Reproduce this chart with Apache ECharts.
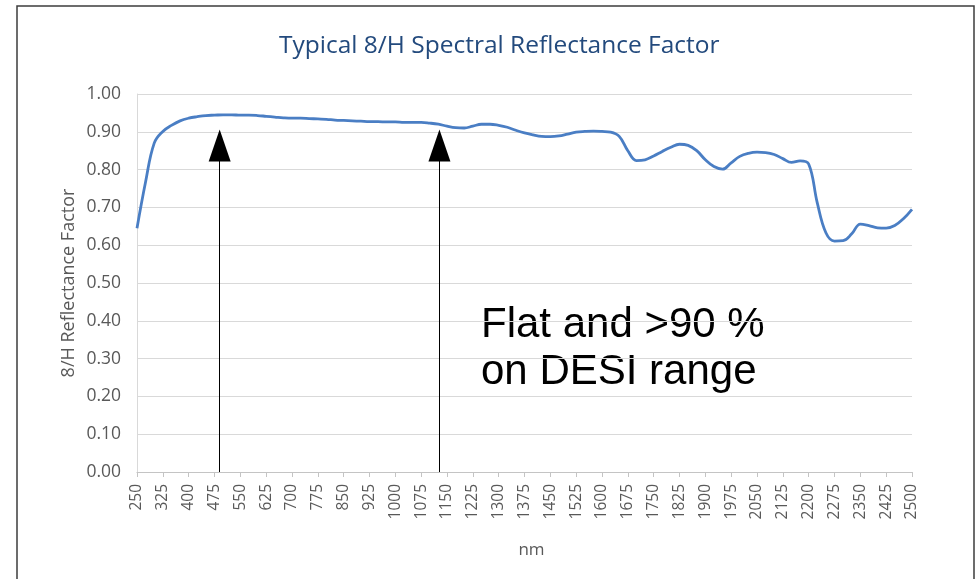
<!DOCTYPE html>
<html>
<head>
<meta charset="utf-8">
<title>Typical 8/H Spectral Reflectance Factor</title>
<script src="https://cdn.jsdelivr.net/npm/echarts@6.0.0/dist/echarts.min.js"></script>
<style>
    html, body { margin: 0; padding: 0; background: #fff; }
    #chart { width: 978px; height: 579px; }
</style>
</head>
<body>
<div id="chart"></div>
<script>
// sampled every 25 nm, 250 .. 2500
const wavelengths = [];
for (let nm = 250; nm <= 2500; nm += 25) wavelengths.push(nm);

// reflectance factor, one per wavelength
const reflectance = [
    0.645, 0.768, 0.870, 0.901, 0.917, 0.929, 0.936, 0.940, 0.943, 0.944,
    0.945, 0.945, 0.944, 0.944, 0.943, 0.941, 0.939, 0.937, 0.936, 0.936,
    0.935, 0.934, 0.933, 0.931, 0.930, 0.929, 0.928, 0.927, 0.927, 0.926,
    0.926, 0.925, 0.925, 0.925, 0.923, 0.920, 0.915, 0.911, 0.910, 0.915,
    0.920, 0.920, 0.917, 0.912, 0.904, 0.897, 0.892, 0.888, 0.887, 0.889,
    0.894, 0.899, 0.901, 0.902, 0.901, 0.899, 0.888, 0.850, 0.824, 0.826,
    0.836, 0.848, 0.859, 0.867, 0.864, 0.850, 0.826, 0.808, 0.801, 0.818,
    0.835, 0.843, 0.846, 0.845, 0.840, 0.829, 0.819, 0.823, 0.815, 0.712,
    0.633, 0.611, 0.612, 0.630, 0.656, 0.652, 0.646, 0.645, 0.652, 0.670,
    0.695
];

// x tick labels (every 75 nm)
const xTicks = [
    250, 325, 400, 475, 550, 625, 700, 775, 850, 925, 1000,
    1075, 1150, 1225, 1300, 1375, 1450, 1525, 1600, 1675, 1750,
    1825, 1900, 1975, 2050, 2125, 2200, 2275, 2350, 2425, 2500
];

// hand-drawn arrows marking the DESI range
const arrowNm = [490, 1128];
const arrowTop = 0.864;
const note = ['Flat and >90 %', 'on DESI range'];

const labelGrey = '#595959';
const font = '"Open Sans", "Noto Sans", sans-serif';

const chart = echarts.init(document.getElementById('chart'));

chart.setOption({
    animation: false,
    title: {
        text: 'Typical 8/H Spectral Reflectance Factor',
        left: 274,
        top: 29,
        textStyle: { fontFamily: font, fontSize: 24.5, fontWeight: 'normal', color: '#234a7d' }
    },
    grid: { left: 137, right: 66, top: 94, bottom: 107, outerBoundsMode: 'none' },
    xAxis: {
        type: 'value',
        min: 250,
        max: 2500,
        name: 'nm',
        nameLocation: 'middle',
        nameGap: 70,
        nameMoveOverlap: false,
        nameTextStyle: { fontFamily: font, fontSize: 17, color: labelGrey, padding: [0, 0, 0, 14] },
        axisLine: { lineStyle: { color: '#c4c4c4', width: 1.2 } },
        axisTick: { show: true, length: 5, customValues: xTicks, lineStyle: { color: '#c4c4c4' } },
        axisLabel: {
            customValues: xTicks,
            rotate: 90,
            margin: 12,
            fontFamily: font,
            fontSize: 15.5,
            color: labelGrey,
            formatter: v => String(v)
        },
        splitLine: { show: false }
    },
    yAxis: {
        type: 'value',
        min: 0,
        max: 1,
        interval: 0.1,
        name: '8/H Reflectance Factor',
        nameLocation: 'middle',
        nameGap: 59,
        nameMoveOverlap: false,
        nameTextStyle: { fontFamily: font, fontSize: 18, color: labelGrey },
        axisLine: { show: true, lineStyle: { color: '#d9d9d9' } },
        axisTick: { show: false },
        axisLabel: {
            margin: 16,
            fontFamily: font,
            fontSize: 17.5,
            color: labelGrey,
            formatter: v => v.toFixed(2)
        },
        splitLine: { lineStyle: { color: '#d9d9d9', width: 1.2 } }
    },
    series: [
        {
            name: 'Reflectance',
            type: 'line',
            data: wavelengths.map((nm, i) => [nm, reflectance[i]]),
            smooth: 0.4,
            showSymbol: false,
            lineStyle: { color: '#4a7ec4', width: 2.8 },
            z: 3
        },
        {
            name: 'Arrows',
            type: 'line',
            data: [],
            markLine: {
                silent: true,
                symbol: ['none', 'triangle'],
                symbolSize: [22, 32],
                label: { show: false },
                lineStyle: { color: '#000', width: 1, type: 'solid' },
                emphasis: { disabled: true },
                data: arrowNm.map(nm => [{ coord: [nm, 0] }, { coord: [nm, arrowTop] }])
            },
            z: 4
        }
    ],
    graphic: [
        {
            type: 'rect',
            silent: true,
            shape: { x: 17, y: 6, width: 957, height: 575 },
            style: { fill: 'none', stroke: '#3c3c3c', lineWidth: 1.5 }
        },
        {
            type: 'text',
            silent: true,
            style: {
                x: 481,
                y: 302,
                text: note.join('\n'),
                font: '42px "Liberation Sans", Arial, sans-serif',
                lineHeight: 47,
                fill: '#000'
            }
        }
    ]
});

window.addEventListener('resize', () => chart.resize());
</script>
</body>
</html>
